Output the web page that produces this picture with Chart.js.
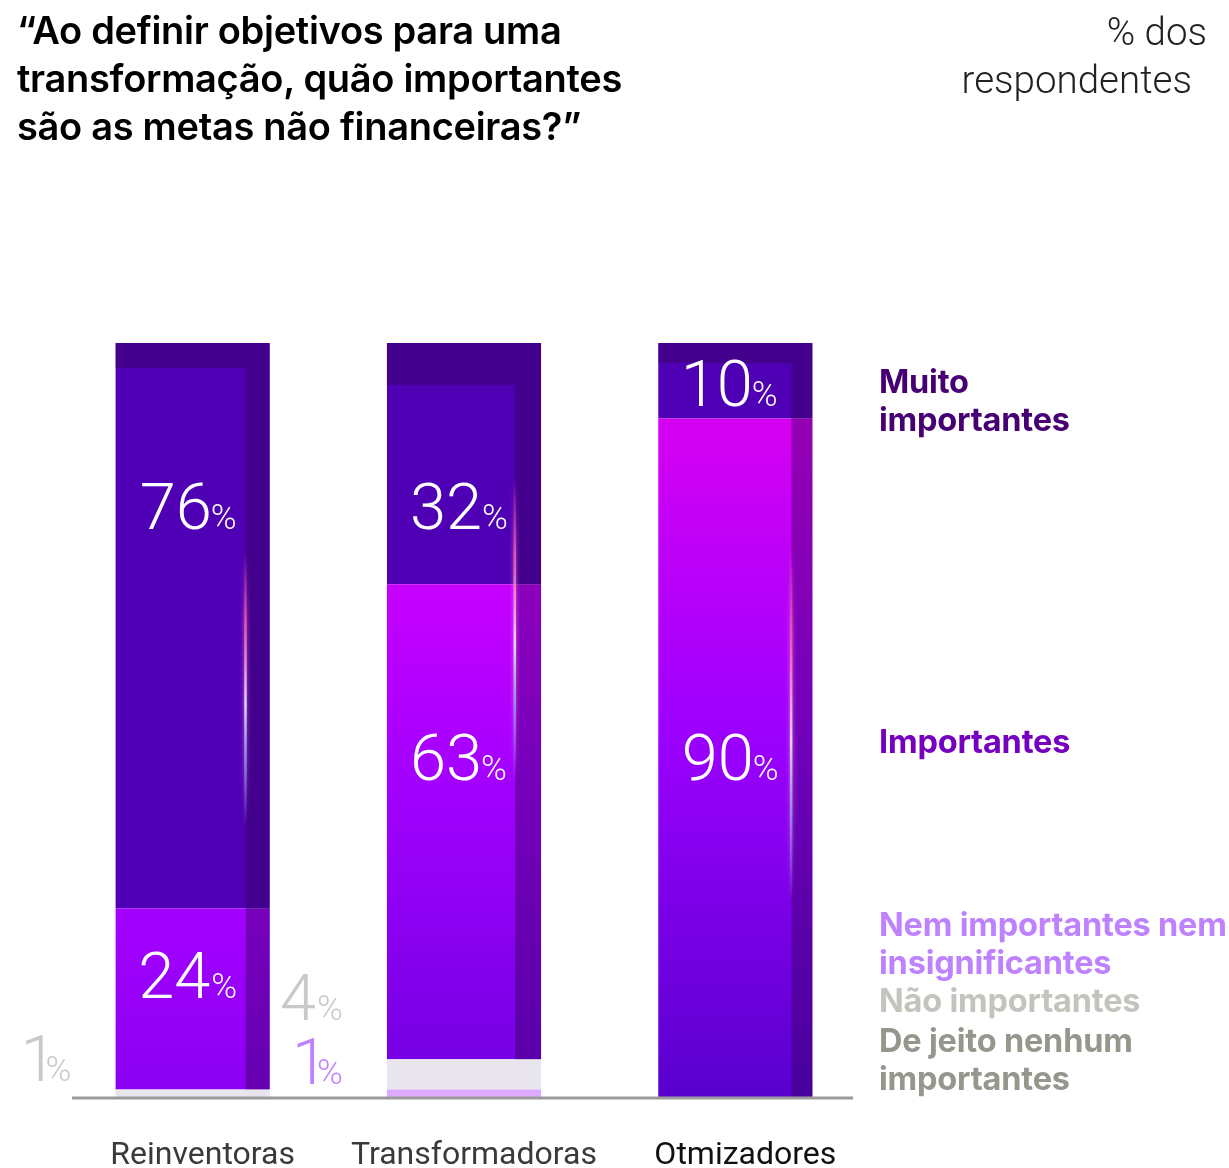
<!DOCTYPE html>
<html lang="pt">
<head>
<meta charset="utf-8">
<title>Metas não financeiras</title>
<script src="https://cdn.jsdelivr.net/npm/chart.js@4.4.1/dist/chart.umd.min.js"></script>
<style>
  html, body { margin: 0; padding: 0; background: #fff; }
  #page { position: relative; width: 1229px; height: 1168px; overflow: hidden; font-family: Inter, "Noto Sans", sans-serif; }
  #chartBox { position: absolute; left: 0; top: 0; width: 1229px; height: 1168px; }
  #title { position: absolute; left: 17px; top: 6px; margin: 0; font-size: 38px; line-height: 48px; font-weight: 600; color: #000; letter-spacing: -0.3px; }
  .unit { position: absolute; font-family: Roboto, sans-serif; font-weight: 300; font-size: 38.5px; line-height: 48px; color: #222; white-space: nowrap; }
  .lg { position: absolute; left: 879px; font-size: 32.5px; line-height: 38px; font-weight: 700; white-space: pre-line; letter-spacing: -0.2px; }
</style>
</head>
<body>
<div id="page">
  <div id="chartBox"><canvas id="chart"></canvas></div>
  <h1 id="title">“Ao definir objetivos para uma<br>transformação, quão importantes<br>são as metas não financeiras?”</h1>
  <div class="unit" style="right:22px;top:8px;">% dos</div>
  <div class="unit" style="right:37px;top:56px;">respondentes</div>
  <div id="legend"></div>
</div>
<script>
// Survey answers, % of respondents per group
const categories = ['Reinventoras', 'Transformadoras', 'Otmizadores'];
const seriesNames = ['Muito importantes', 'Importantes', 'Nem importantes nem insignificantes', 'Não importantes', 'De jeito nenhum importantes'];
const muitoImportantes = [76, 32, 10];
const importantes = [24, 63, 90];
const nemImportantes = [0, 1, 0];
const naoImportantes = [1, 4, 0];
const deJeitoNenhum = [0, 0, 0];

// Legend text (line breaks) and colours
const legendText = ['Muito\nimportantes', 'Importantes', 'Nem importantes nem\ninsignificantes', 'Não importantes', 'De jeito nenhum\nimportantes'];
const legendColors = ['#460073', '#7500C0', '#BE82FF', '#C4C4BE', '#96968C'];
const legendTops = [363, 723, 906, 982, 1022];

// Fill styles
const muitoColor = '#5000B4';
const importantesStops = [
  [[0, '#A400FF'], [1, '#8A00F0']],
  [[0, '#C600FF'], [0.4, '#A400FF'], [1, '#7600E4']],
  [[0, '#D600F2'], [0.45, '#9E00FF'], [1, '#5800CE']]
];
const nemColor = '#DDAAFF';
const naoColor = '#E8E5EE';
const deJeitoColor = '#96968C';

// Where each value label sits (axis units) and on which side of the bar
const labelPlacement = {
  'Muito importantes': [{ at: 78.5 }, { at: 78.5 }, { at: 94.7 }],
  'Importantes': [{ at: 16.2 }, { at: 45.1 }, { at: 45.1 }],
  'Nem importantes nem insignificantes': [null, { at: 4.9, side: 'left', color: '#BE82FF' }, null],
  'Não importantes': [{ at: 5.3, side: 'left', color: '#C9C9C5' }, { at: 13.3, side: 'left', color: '#C9C9C5' }, null]
};

// Bar shading: darker top and right bands plus a thin light streak
const decor = {
  shade: 'rgba(45,0,75,0.38)',
  topBand: [25, 42, 20],
  rightBand: [24, 26, 21],
  streak: [[0.28, 0.64], [0.18, 0.58], [0.27, 0.74]]
};

// Legend built from the series names
const legendEl = document.getElementById('legend');
legendText.forEach((t, i) => {
  const d = document.createElement('div');
  d.className = 'lg';
  d.style.top = legendTops[i] + 'px';
  d.style.color = legendColors[i];
  d.textContent = t;
  legendEl.appendChild(d);
});

function segmentExtent(chart, dsIndex, i) {
  const y = chart.scales.y;
  let base = 0;
  for (let k = 0; k < dsIndex; k++) base += chart.data.datasets[k].data[i] || 0;
  const v = chart.data.datasets[dsIndex].data[i] || 0;
  return { top: y.getPixelForValue(base + v), bottom: y.getPixelForValue(base) };
}

function importantesFill(ctx) {
  const chart = ctx.chart;
  if (!chart.chartArea || ctx.type !== 'data') return '#A000FF';
  const ext = segmentExtent(chart, ctx.datasetIndex, ctx.dataIndex);
  if (!isFinite(ext.top) || ext.bottom - ext.top < 1) return '#A000FF';
  const g = chart.ctx.createLinearGradient(0, ext.top, 0, ext.bottom);
  importantesStops[ctx.dataIndex].forEach(([o, c]) => g.addColorStop(o, c));
  return g;
}

const barDecor = {
  id: 'barDecor',
  afterDatasetsDraw(chart) {
    const { ctx, chartArea } = chart;
    const ds = chart.data.datasets;
    const iImp = ds.findIndex(d => d.label === 'Importantes');
    const iMuito = ds.findIndex(d => d.label === 'Muito importantes');
    ctx.save();
    ctx.beginPath();
    ctx.rect(chartArea.left, chartArea.top, chartArea.width, chartArea.height);
    ctx.clip();
    categories.forEach((c, i) => {
      const el = chart.getDatasetMeta(iMuito).data[i];
      const left = el.x - el.width / 2, w = el.width;
      const top = Math.max(chartArea.top, segmentExtent(chart, iMuito, i).top);
      const bottom = segmentExtent(chart, iImp, i).bottom;
      const rb = decor.rightBand[i];
      ctx.fillStyle = decor.shade;
      ctx.fillRect(left + w - rb, top, rb, bottom - top);
      ctx.fillRect(left, top, w - rb, decor.topBand[i]);
      // light streak along the inner edge of the right band
      const [f0, f1] = decor.streak[i];
      const y0 = chartArea.top + f0 * chartArea.height, y1 = chartArea.top + f1 * chartArea.height;
      const g = ctx.createLinearGradient(0, y0, 0, y1);
      g.addColorStop(0, 'rgba(255,80,160,0)');
      g.addColorStop(0.25, 'rgba(255,90,170,0.8)');
      g.addColorStop(0.55, 'rgba(230,220,255,0.95)');
      g.addColorStop(0.75, 'rgba(150,180,255,0.7)');
      g.addColorStop(1, 'rgba(150,180,255,0)');
      ctx.fillStyle = g;
      ctx.shadowColor = 'rgba(255,140,220,0.8)';
      ctx.shadowBlur = 4;
      ctx.fillRect(left + w - rb - 1.5, y0, 2.5, y1 - y0);
      ctx.shadowBlur = 0;
    });
    ctx.restore();

    // baseline
    const yb = chart.scales.y.getPixelForValue(0) + 1;
    ctx.save();
    ctx.strokeStyle = '#9B9B9B';
    ctx.lineWidth = 3;
    ctx.beginPath();
    ctx.moveTo(chartArea.left + 15, yb);
    ctx.lineTo(chartArea.right - 18, yb);
    ctx.stroke();
    ctx.restore();
  }
};

const numFont = '300 65px Roboto';
const pctFont = '300 35px Roboto';

const valueLabels = {
  id: 'valueLabels',
  afterDraw(chart) {
    const { ctx } = chart;
    const y = chart.scales.y;
    ctx.save();
    chart.data.datasets.forEach((d, di) => {
      const place = labelPlacement[d.label];
      if (!place) return;
      const meta = chart.getDatasetMeta(di);
      d.data.forEach((v, i) => {
        const p = place[i];
        if (!p || !v) return;
        const el = meta.data[i];
        const num = String(v);
        // measure ink extents so digits and % sit tight together
        ctx.font = numFont;
        const mn = ctx.measureText(num);
        const nL = mn.actualBoundingBoxLeft, nR = mn.actualBoundingBoxRight;
        ctx.font = pctFont;
        const mp = ctx.measureText('%');
        const pL = mp.actualBoundingBoxLeft, pR = mp.actualBoundingBoxRight;
        const gap = 3;
        const total = (nL + nR) + gap + (pL + pR);
        let inkLeft;
        if (p.side === 'left') inkLeft = el.x - el.width / 2 - 45 - total;
        else inkLeft = el.x - total / 2 - 4;
        const base = y.getPixelForValue(p.at) + 23.5;
        ctx.fillStyle = p.color || '#FFFFFF';
        ctx.textBaseline = 'alphabetic';
        ctx.textAlign = 'left';
        ctx.font = numFont;
        ctx.fillText(num, inkLeft + nL, base);
        ctx.font = pctFont;
        ctx.fillText('%', inkLeft + nL + nR + gap + pL, base);
      });
    });
    ctx.restore();
  }
};

const seriesData = [muitoImportantes, importantes, nemImportantes, naoImportantes, deJeitoNenhum];
const seriesFill = [muitoColor, importantesFill, nemColor, naoColor, deJeitoColor];
// stacked bottom-up: de jeito nenhum, nem importantes, não importantes, importantes, muito importantes
const stackOrder = [4, 2, 3, 1, 0];

new Chart(document.getElementById('chart'), {
  type: 'bar',
  data: {
    labels: categories,
    datasets: stackOrder.map(k => ({
      label: seriesNames[k],
      data: seriesData[k],
      backgroundColor: seriesFill[k],
      borderWidth: 0,
      barPercentage: 0.568,
      categoryPercentage: 1
    }))
  },
  options: {
    responsive: true,
    maintainAspectRatio: false,
    animation: false,
    layout: { padding: { left: 57, right: 358, top: 343, bottom: 0 } },
    plugins: { legend: { display: false }, tooltip: { enabled: false }, title: { display: false } },
    scales: {
      x: {
        stacked: true,
        grid: { display: false, drawTicks: false },
        border: { display: false },
        ticks: {
          padding: 40,
          labelOffset: 10,
          color: c => c.index === 2 ? '#111111' : '#3A3A3A',
          font: { family: 'Roboto', size: 32, weight: 400 }
        },
        afterFit: s => { s.height = 71; }
      },
      y: { stacked: true, display: false, min: 0, max: 100 }
    }
  },
  plugins: [barDecor, valueLabels]
});
</script>
</body>
</html>
